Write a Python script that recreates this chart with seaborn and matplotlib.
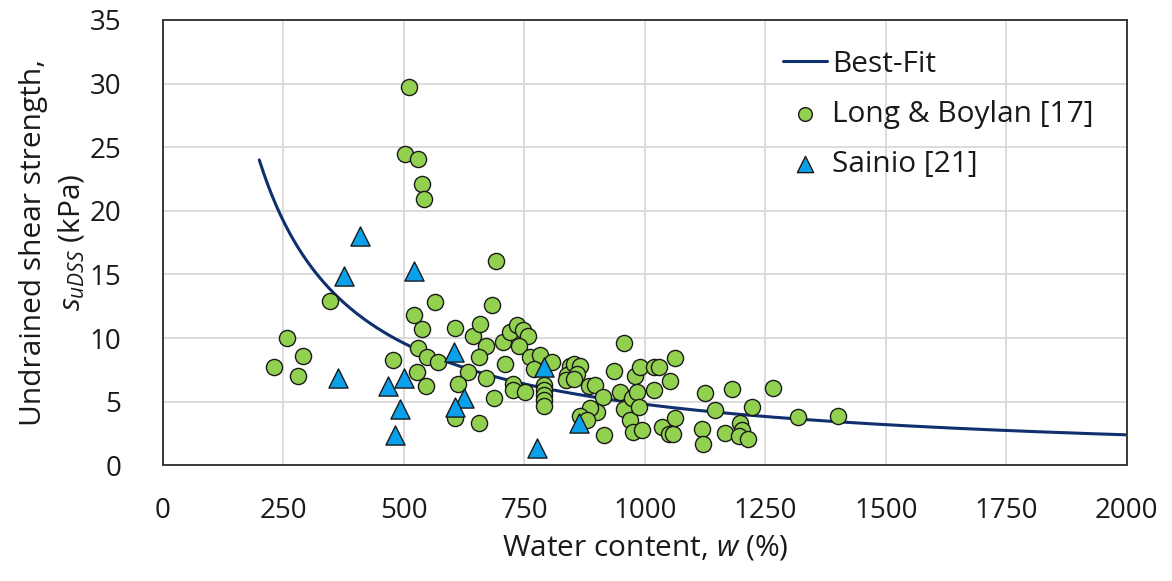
import numpy as np
import pandas as pd
import matplotlib
matplotlib.use("Agg")
import matplotlib.pyplot as plt
import seaborn as sns

# Long & Boylan [17]: water content (%) and DSS undrained shear strength (kPa)
lb_w = [231, 258, 280, 291, 346, 478, 511, 502, 529, 538, 541, 520, 538, 529,
        547, 528, 545, 565, 570, 606, 643, 659, 670, 656, 634, 670, 613, 606,
        655, 686, 683, 692, 710, 706, 720, 734, 748, 758, 738, 727, 727, 751,
        762, 783, 807, 769, 791, 791, 791, 791, 791, 845, 838, 852, 866, 859,
        836, 852, 884, 897, 914, 900, 886, 866, 879, 916, 935, 949, 957, 956,
        969, 976, 994, 980, 990, 974, 983, 987, 1018, 1018, 1030, 1052, 1062,
        1035, 1050, 1059, 1063, 1125, 1146, 1118, 1121, 1166, 1180, 1198, 1201,
        1196, 1215, 1223, 1265, 1317, 1400]
lb_su = [7.7, 10.0, 7.0, 8.6, 12.9, 8.3, 29.7, 24.5, 24.1, 22.1, 20.9, 11.8,
         10.7, 9.2, 8.5, 7.3, 6.2, 12.8, 8.1, 10.8, 10.2, 11.1, 9.4, 8.5, 7.3,
         6.9, 6.4, 3.7, 3.3, 5.3, 12.6, 16.05, 8.0, 9.7, 10.5, 11.0, 10.6, 10.2,
         9.35, 6.4, 5.9, 5.8, 8.5, 8.7, 8.1, 7.6, 6.3, 5.9, 5.5, 5.1, 4.7, 7.8,
         7.1, 8.0, 7.8, 7.2, 6.7, 6.8, 6.2, 6.3, 5.4, 4.2, 4.5, 3.9, 3.6, 2.4,
         7.4, 5.8, 9.6, 4.4, 3.6, 2.6, 2.8, 7.0, 7.7, 5.3, 5.8, 4.6, 5.9, 7.7,
         7.7, 6.65, 8.4, 3.0, 2.5, 2.45, 3.7, 5.7, 4.35, 2.85, 1.65, 2.56, 5.97,
         3.3, 2.8, 2.3, 2.04, 4.6, 6.1, 3.77, 3.87]

# Sainio [21]
sa_w = [364, 375, 408, 468, 482, 492, 501, 521, 604, 625, 606, 776, 790, 864]
sa_su = [6.9, 14.9, 18.0, 6.2, 2.4, 4.4, 6.9, 15.3, 8.9, 5.3, 4.6, 1.35, 7.7, 3.3]

# Best-fit power law su = a * w^b
fit_a = 4800.0
fit_b = -1.0
fit_w_min, fit_w_max = 200, 2000

x_ticks = [0, 250, 500, 750, 1000, 1250, 1500, 1750, 2000]
y_ticks = [0, 5, 10, 15, 20, 25, 30, 35]

sns.set_theme(style="white")
plt.rcParams["font.family"] = ["Open Sans", "DejaVu Sans"]
plt.rcParams["mathtext.fontset"] = "custom"
plt.rcParams["mathtext.rm"] = "Open Sans"
plt.rcParams["mathtext.it"] = "Open Sans:italic"

TXT = "#1a1a1a"

fig = plt.figure(figsize=(11.72, 5.81), dpi=100)
ax = fig.add_axes([0.139, 0.199, 0.8224, 0.7666])

fit_w = np.linspace(fit_w_min, fit_w_max, 400)
fit_df = pd.DataFrame({"w": fit_w, "su": fit_a * fit_w ** fit_b})
lb_df = pd.DataFrame({"w": lb_w, "su": lb_su})
sa_df = pd.DataFrame({"w": sa_w, "su": sa_su})

sns.lineplot(data=fit_df, x="w", y="su", ax=ax, color="#0f2f6e", lw=2.2,
             label="Best-Fit", zorder=2)
sns.scatterplot(data=lb_df, x="w", y="su", ax=ax, marker="o", s=135,
                color="#92d050", edgecolor=TXT, linewidth=1.0,
                label="Long & Boylan [17]", zorder=3)
sns.scatterplot(data=sa_df, x="w", y="su", ax=ax, marker="^", s=190,
                color="#0aa0ea", edgecolor=TXT, linewidth=1.0,
                label="Sainio [21]", zorder=4)

ax.set_xlim(0, 2000)
ax.set_ylim(0, 35)
ax.set_xticks(x_ticks)
ax.set_yticks(y_ticks)
ax.set_xticklabels([str(t) for t in x_ticks])
ax.set_yticklabels([str(t) for t in y_ticks])
ax.grid(True, color="#d9d9d9", lw=1.3)
ax.set_axisbelow(True)
for sp in ax.spines.values():
    sp.set_color("#3a3a3a")
    sp.set_linewidth(1.4)
ax.tick_params(axis="both", length=0, labelsize=20, colors=TXT)
ax.tick_params(axis="x", pad=23)
ax.tick_params(axis="y", pad=30)

ax.set_xlabel("Water content, $w$ (%)", fontsize=21.5, color=TXT, labelpad=6)
ax.set_ylabel("Undrained shear strength,\n$s_{uDSS}$ (kPa)", fontsize=21.5,
              color=TXT, labelpad=2, linespacing=1.35)

leg = ax.legend(loc="upper left", bbox_to_anchor=(0.631, 0.96), frameon=False,
                fontsize=21.5, handlelength=1.47, handletextpad=0.17,
                labelspacing=0.7, borderaxespad=0, markerscale=0.85)
for t in leg.get_texts():
    t.set_color(TXT)

fig.savefig("out.png", dpi=100, facecolor="white")
